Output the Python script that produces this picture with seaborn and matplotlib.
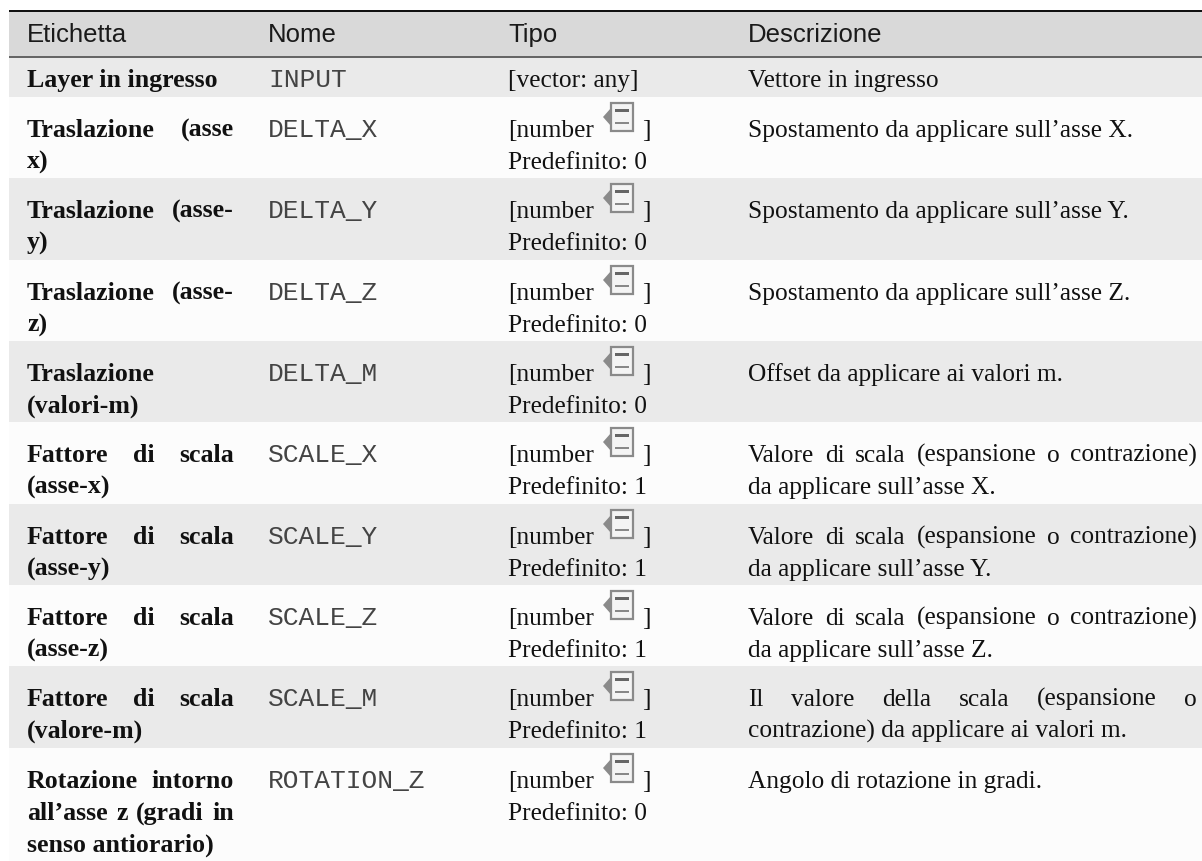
import matplotlib
matplotlib.use('Agg')
import matplotlib.pyplot as plt
import numpy as np
import seaborn as sns
from matplotlib.colors import ListedColormap
from matplotlib.patches import Polygon, Rectangle
from matplotlib.transforms import Affine2D

# Table content, one entry per row ("\n" = line break of the source table)
headers = ['Etichetta', 'Nome', 'Tipo', 'Descrizione']
labels = ['Layer in ingresso', 'Traslazione (asse\nx)', 'Traslazione (asse-\ny)',
          'Traslazione (asse-\nz)', 'Traslazione\n(valori-m)', 'Fattore di scala\n(asse-x)',
          'Fattore di scala\n(asse-y)', 'Fattore di scala\n(asse-z)', 'Fattore di scala\n(valore-m)',
          'Rotazione intorno\nall’asse z (gradi in\nsenso antiorario)']
names = ['INPUT', 'DELTA_X', 'DELTA_Y', 'DELTA_Z', 'DELTA_M',
         'SCALE_X', 'SCALE_Y', 'SCALE_Z', 'SCALE_M', 'ROTATION_Z']
defaults = [None, '0', '0', '0', '0', '1', '1', '1', '1', '0']
descriptions = ['Vettore in ingresso',
                'Spostamento da applicare sull’asse X.',
                'Spostamento da applicare sull’asse Y.',
                'Spostamento da applicare sull’asse Z.',
                'Offset da applicare ai valori m.',
                'Valore di scala (espansione o contrazione)\nda applicare sull’asse X.',
                'Valore di scala (espansione o contrazione)\nda applicare sull’asse Y.',
                'Valore di scala (espansione o contrazione)\nda applicare sull’asse Z.',
                'Il valore della scala (espansione o\ncontrazione) da applicare ai valori m.',
                'Angolo di rotazione in gradi.']

W, H = 1202, 861
LEFT = 9
COL_X = [27, 268, 508, 748]
COL_R = [234, None, None, 1197]
HEADER_TOP, HEADER_BOTTOM = 11, 57
ROW_BOTTOMS = [97, 178, 260, 341, 422, 504, 585, 666, 748, 861]
BODY = 18.3
BOLD = 18.6
HEAD = 18.5
MONO = 18.9
LINE = 32

sns.set_theme(style='white')
fig = plt.figure(figsize=(W / 100, H / 100), dpi=100, facecolor='white')
ax = fig.add_axes([LEFT / W, 0, (W - LEFT) / W, 1])

# background stripes as a one-column heatmap with one cell per pixel row
shade = np.zeros((H, 1), dtype=int)
shade[HEADER_TOP:HEADER_BOTTOM] = 1
prev = HEADER_BOTTOM
for i, b in enumerate(ROW_BOTTOMS):
    shade[prev:b] = 2 if i % 2 == 0 else 3
    prev = b
sns.heatmap(shade, ax=ax, cbar=False, xticklabels=False, yticklabels=False,
            cmap=ListedColormap(['#ffffff', '#d9d9d9', '#eaeaea', '#fcfcfc']), vmin=0, vmax=3)
ax.set_axis_off()

px = Affine2D().scale(1, -1).translate(0, H)
fig.add_artist(Rectangle((LEFT, 9.8), W - LEFT, 2, transform=px, color='#111111', lw=0))
fig.add_artist(Rectangle((LEFT, 56.4), W - LEFT, 1.4, transform=px, color='#666666', lw=0))
renderer = fig.canvas.get_renderer()


def put(x, y, s, **kw):
    return fig.text(x, y, s, transform=px, va='baseline', ha='left', **kw)


def justified(x, right, y, line, **kw):
    # spread the words of one line over the width of the column
    words = line.split(' ')
    arts = [put(x, y, w, **kw) for w in words]
    widths = [a.get_window_extent(renderer).width for a in arts]
    gap = (right - x - sum(widths)) / (len(words) - 1)
    cur = x
    for a, w in zip(arts, widths):
        a.set_position((cur, y))
        cur += w + gap


def block(x, right, y, text, **kw):
    lines = text.split('\n')
    for k, line in enumerate(lines):
        yy = y + k * LINE
        if k < len(lines) - 1 and ' ' in line:
            justified(x, right, yy, line, **kw)
        else:
            put(x, yy, line, **kw)


def icon(x, y):
    # small grey widget glyph next to "[number"
    fig.add_artist(Polygon([(x, y + 14), (x + 8, y + 5), (x + 8, y + 23)], transform=px, color='#8a8a8a', lw=0))
    fig.add_artist(Rectangle((x + 8, y), 22, 28, transform=px, fc='#f4f4f4', ec='#8a8a8a', lw=1.6))
    fig.add_artist(Rectangle((x + 12, y + 6), 14, 3, transform=px, color='#666666', lw=0))
    fig.add_artist(Rectangle((x + 12, y + 19), 14, 1.5, transform=px, color='#888888', lw=0))


for x, h in zip(COL_X, headers):
    put(x, 42, h, family='Liberation Sans', fontsize=HEAD, color='#1a1a1a')

tops = [HEADER_BOTTOM] + ROW_BOTTOMS[:-1]
for i, top in enumerate(tops):
    base = top + (30 if i == 0 else 40)
    serif = dict(family='Liberation Serif', fontsize=BODY, color='#111111')
    block(COL_X[0], COL_R[0], base, labels[i], family='Liberation Serif', fontsize=BOLD,
          color='#111111', fontweight='bold')
    put(COL_X[1], base, names[i], family='Liberation Mono', fontsize=MONO, color='#444444')
    if defaults[i] is None:
        put(COL_X[2], base, '[vector: any]', **serif)
    else:
        put(COL_X[2], base, '[number', **serif)
        icon(603, top + 6)
        put(642, base, ']', **serif)
        put(COL_X[2], base + LINE, 'Predefinito: ' + defaults[i], **serif)
    block(COL_X[3], COL_R[3], base, descriptions[i], **serif)

fig.savefig('out.png', dpi=100)
